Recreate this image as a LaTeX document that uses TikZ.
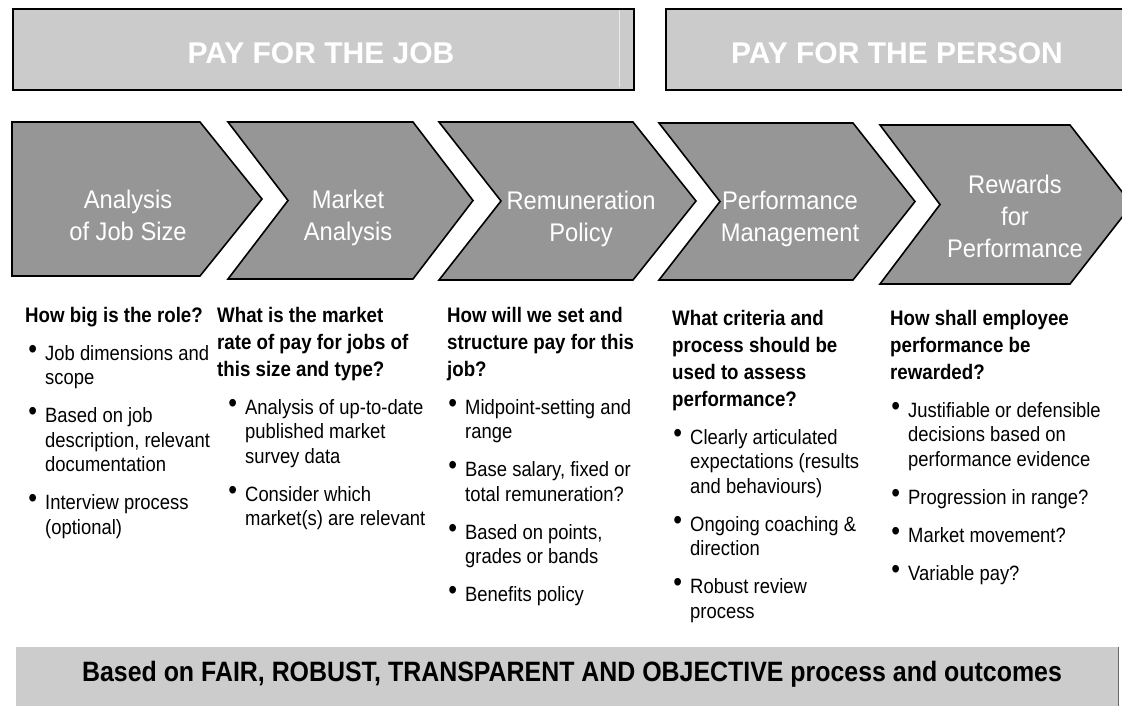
\documentclass[tikz,border=0pt]{standalone}
\usepackage{fontspec}
\setmainfont{Liberation Sans}
\newfontfamily\colfont[FakeStretch=0.89]{Liberation Sans}
\newfontfamily\chevfont[FakeStretch=0.93]{Liberation Sans}

\definecolor{boxgray}{HTML}{CBCBCB}
\definecolor{chevgray}{HTML}{969696}
\definecolor{bangray}{HTML}{CCCCCC}

% question heading and bullet text of the five columns
\newcommand\qhead{\colfont\bfseries\fontsize{21}{27}\selectfont}
\newcommand\qbody{\colfont\mdseries\fontsize{20.7}{24.5}\selectfont}
\newcommand\bpt{\noindent\llap{\raisebox{2pt}{\fontsize{28}{28}\selectfont\textbullet}\hspace{8pt}}}
\newcommand\chevtext{\chevfont\fontsize{25.5}{32}\selectfont}

\tikzset{
  topbox/.style={draw=black, line width=2pt, fill=boxgray, inner sep=0pt, anchor=north west},
  toplabel/.style={text=white, font=\fontsize{30}{34}\selectfont\bfseries, anchor=base, inner sep=0pt},
  chevron/.style={draw=black, line width=1.6pt, fill=chevgray, line join=miter},
  chevlabel/.style={text=white, font=\chevtext, align=center, anchor=center, inner sep=0pt},
  column/.style={anchor=base west, inner sep=0pt, text=black},
  banner/.style={fill=bangray, inner sep=0pt, anchor=north west},
}

% chevron: left, notch, right, tip, top, bottom
\newcommand\chev[6]{%
  \pgfmathsetmacro\chmid{(#5+#6)/2}%
  \path[chevron] (#1,#5) -- (#3,#5) -- (#4,\chmid) -- (#3,#6) -- (#1,#6) -- (#2,\chmid) -- cycle;}

\begin{document}
\begin{tikzpicture}[x=1pt,y=-1pt]
\useasboundingbox (0,0) rectangle (1122,705);
\clip (0,0) rectangle (1122,705);

% headline bands
\node[topbox, minimum width=621pt, minimum height=81pt] (jobbox) at (12,8) {};
\draw[white!60!boxgray, line width=0.6pt] (619,10) -- (619,87);
\node[topbox, minimum width=470pt, minimum height=81pt] (personbox) at (665,8) {};
\node[toplabel] (joblabel) at (321,63) {PAY FOR THE JOB};
\node[toplabel] (personlabel) at (897,63) {PAY FOR THE PERSON};

% process chevrons
\chev{12}{12}{200}{262}{122}{276}
\chev{228}{288}{413}{473}{122}{279}
\chev{439}{501}{633}{696}{122}{280}
\chev{659}{720}{853}{915}{123}{280}
\chev{880}{940}{1070}{1132}{125}{284}

\node[chevlabel] (s1) at (128,217.6) {\strut Analysis\\\strut of Job Size};
\node[chevlabel] (s2) at (348,217.6) {\strut Market\\\strut Analysis};
\node[chevlabel] (s3) at (581,219) {\strut Remuneration\\\strut Policy};
\node[chevlabel] (s4) at (790,219) {\strut Performance\\\strut Management};
\node[chevlabel] (s5) at (1015,218.6) {\strut Rewards\\\strut for\\\strut Performance};

% questions and bullet points
\node[column] (q1) at (25,322) {\begin{minipage}[t]{240pt}\raggedright
{\qhead How big is the role?\par}
{\qbody\setlength\parskip{13.5pt}\setlength\leftskip{20pt}
\bpt Job dimensions and\newline scope\par
\bpt Based on job\newline description, relevant\newline documentation\par
\bpt Interview process\newline (optional)\par}
\end{minipage}};

\node[column] (q2) at (217,322) {\begin{minipage}[t]{240pt}\raggedright
{\qhead What is the market\newline rate of pay for jobs of\newline this size and type?\par}
{\qbody\setlength\parskip{13.5pt}\setlength\leftskip{28pt}
\bpt Analysis of up-to-date\newline published market\newline survey data\par
\bpt Consider which\newline market(s) are relevant\par}
\end{minipage}};

\node[column] (q3) at (447,322) {\begin{minipage}[t]{240pt}\raggedright
{\qhead How will we set and\newline structure pay for this\newline job?\par}
{\qbody\setlength\parskip{13.5pt}\setlength\leftskip{18pt}
\bpt Midpoint-setting and\newline range\par
\bpt Base salary, fixed or\newline total remuneration?\par
\bpt Based on points,\newline grades or bands\par
\bpt Benefits policy\par}
\end{minipage}};

\node[column] (q4) at (672,325) {\begin{minipage}[t]{240pt}\raggedright
{\qhead What criteria and\newline process should be\newline used to assess\newline performance?\par}
{\qbody\setlength\parskip{13.5pt}\setlength\leftskip{18pt}
\bpt Clearly articulated\newline expectations (results\newline and behaviours)\par
\bpt Ongoing coaching \&\newline direction\par
\bpt Robust review\newline process\par}
\end{minipage}};

\node[column] (q5) at (890,325) {\begin{minipage}[t]{240pt}\raggedright
{\qhead How shall employee\newline performance be\newline rewarded?\par}
{\qbody\setlength\parskip{13.5pt}\setlength\leftskip{18pt}
\bpt Justifiable or defensible\newline decisions based on\newline performance evidence\par
\bpt Progression in range?\par
\bpt Market movement?\par
\bpt Variable pay?\par}
\end{minipage}};

% closing banner
\node[banner, minimum width=1102pt, minimum height=60pt] (base) at (16,647) {};
\draw[black!60, line width=1pt] (base.north east) -- (base.south east);
\node[anchor=base, inner sep=0pt, font=\colfont\bfseries\fontsize{28}{32}\selectfont] (baselabel) at (572,681)
  {Based on FAIR, ROBUST, TRANSPARENT AND OBJECTIVE process and outcomes};
\end{tikzpicture}
\end{document}
